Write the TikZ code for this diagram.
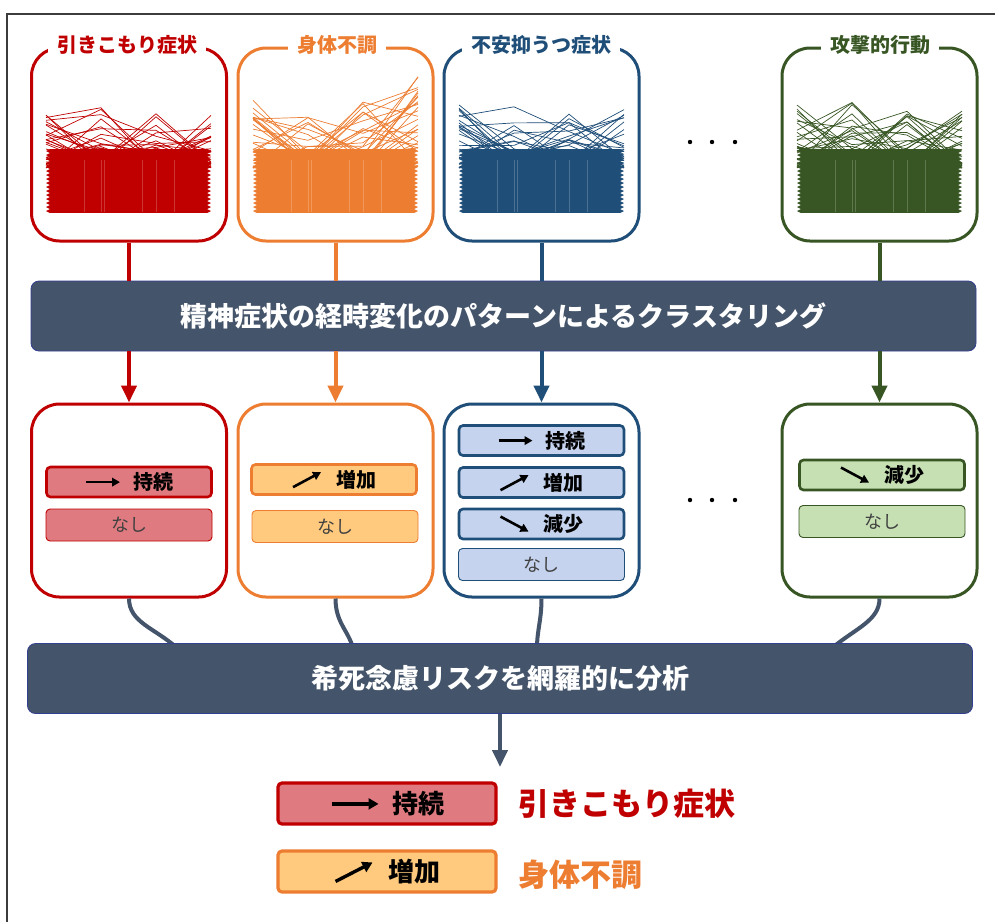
\documentclass[tikz,border=0pt]{standalone}
\usepackage{fontspec}
\setmainfont{Noto Sans CJK JP}
\usetikzlibrary{arrows.meta,calc}
\definecolor{cred}{HTML}{C00000}
\definecolor{cpink}{HTML}{DF7B80}
\definecolor{corange}{HTML}{ED7D31}
\definecolor{cpeach}{HTML}{FFCA7E}
\definecolor{cblue}{HTML}{1F4E79}
\definecolor{clblue}{HTML}{C5D3EE}
\definecolor{cgreen}{HTML}{375623}
\definecolor{clgreen}{HTML}{C6E0B4}
\definecolor{cslate}{HTML}{44546A}
\definecolor{cframe}{HTML}{3C3C3C}
\definecolor{cnashi}{HTML}{404040}
\tikzset{
 glyph/.style={line width=2.6pt, black, -{Triangle[length=8pt,width=8.5pt]}},
 bigglyph/.style={line width=3.4pt, black, -{Triangle[length=10pt,width=11pt]}},
 panel/.style={draw=#1, line width=3pt, rounded corners=28pt, minimum width=195pt, minimum height=193pt, fill=white},
 ptitle/.style={fill=white, text=#1, inner xsep=9pt, inner ysep=2pt, font=\fontsize{20}{24}\selectfont\bfseries},
 bandbox/.style={fill=cslate, draw=cslate!75!blue, line width=0.8pt, rounded corners=8pt, minimum width=945pt, minimum height=70pt, text=white, font=\fontsize{27}{30}\selectfont\bfseries},
 rowbox/.style 2 args={fill=#2, draw=#1, line width=2.6pt, rounded corners=4pt, minimum width=165pt, minimum height=30pt, inner sep=0pt, font=\fontsize{20}{24}\selectfont\bfseries},
 nashi/.style 2 args={fill=#2, draw=#1, line width=0.9pt, rounded corners=4pt, minimum width=166pt, minimum height=32pt, inner sep=0pt, text=cnashi, font=\fontsize{18}{22}\selectfont},
 flow/.style={line width=4pt, draw=#1},
 flowarr/.style={line width=4pt, draw=#1, -{Triangle[length=17pt,width=15pt]}},
 plotline/.style={line width=0.7pt, draw=#1},
}
\newcommand\gR{\tikz[baseline=0pt]\draw[glyph] (0pt,7.5pt) -- (34pt,7.5pt);}
\newcommand\gU{\tikz[baseline=0pt]\draw[glyph] (0pt,0pt) -- (28pt,15pt);}
\newcommand\gD{\tikz[baseline=0pt]\draw[glyph] (0pt,15pt) -- (28pt,0pt);}
\newcommand\gRb{\tikz[baseline=0pt]\draw[bigglyph] (0pt,9.5pt) -- (47pt,9.5pt);}
\newcommand\gUb{\tikz[baseline=0pt]\draw[bigglyph] (0pt,0pt) -- (37pt,19pt);}
% #1 x0, #2 colour, #3 seed, #4 rising trend (0/1)
\newcommand\plotset[4]{%
  \fill[#2] ({#1+4},149) rectangle ({#1+161},213);
  \foreach \t in {0,...,15}{
    \fill[#2] ({#1+4},{149+4*\t}) -- ({#1},{151+4*\t}) -- ({#1+4},{153+4*\t}) -- cycle;
    \fill[#2] ({#1+161},{149+4*\t}) -- ({#1+165},{151+4*\t}) -- ({#1+161},{153+4*\t}) -- cycle;
  }
  \pgfmathsetseed{#3}
  \foreach \k in {1,...,32}{
    \pgfmathsetmacro\ya{168-(66+4*#4)*rnd^1.7}
    \pgfmathsetmacro\yb{168-(66-14*#4)*rnd^2.2}
    \pgfmathsetmacro\yc{168-(58+16*#4)*rnd^2}
    \pgfmathsetmacro\yd{168-(62+30*#4)*rnd^(1.8-0.7*#4)}
    \draw[plotline=#2] ({#1},\ya) -- ({#1+55},\yb) -- ({#1+110},\yc) -- ({#1+165},\yd);
  }
  \foreach \s in {38,55,58,96,110,128}{
    \draw[white, opacity=0.2, line width=0.6pt] ({#1+\s},160) -- ({#1+\s},212);
  }
}
\begin{document}
\begin{tikzpicture}[x=1pt,y=-1pt]
\useasboundingbox (0,0) rectangle (995,922);
\fill[white] (0,0) rectangle (995,922);
\draw[cframe, line width=2pt] (6.5,922) -- (6.5,13.5) -- (995,13.5);

% top panels
\node[panel=cred]    (t1) at (129,144.5) {};
\node[panel=corange] (t2) at (335.5,144.5) {};
\node[panel=cblue]   (t3) at (541.5,144.5) {};
\node[panel=cgreen]  (t4) at (879.5,144.5) {};
\plotset{46}{cred}{11}{0}
\plotset{253}{corange}{23}{1}
\plotset{459}{cblue}{37}{0}
\plotset{797}{cgreen}{51}{0}
\node[ptitle=cred]    (h1) at (127,45) {引きこもり症状};
\node[ptitle=corange] (h2) at (337,45) {身体不調};
\node[ptitle=cblue]   (h3) at (541,45) {不安抑うつ症状};
\node[ptitle=cgreen]  (h4) at (880,45) {攻撃的行動};
\foreach \x in {690,712,735} \fill[black] (\x,142) circle (2.2);

% middle panels
\node[panel=cred]    (m1) at (129,500.5) {};
\node[panel=corange] (m2) at (335.5,500.5) {};
\node[panel=cblue]   (m3) at (541.5,500.5) {};
\node[panel=cgreen]  (m4) at (879.5,500.5) {};
\foreach \x in {690,712,735} \fill[black] (\x,500) circle (2.2);

\node[rowbox={cred}{cpink}] (r1a) at (129,482) {\gR\hspace{12pt}持続};
\node[nashi={cred}{cpink}]  (r1b) at (129,525) {なし};
\node[rowbox={corange}{cpeach}] (r2a) at (334,479.5) {\gU\hspace{14pt}増加};
\node[nashi={corange}{cpeach}]  (r2b) at (335,526.5) {なし};
\node[rowbox={cblue}{clblue}] (r3a) at (541.5,440.5) {\gR\hspace{12pt}持続};
\node[rowbox={cblue}{clblue}] (r3b) at (541.5,482.5) {\gU\hspace{14pt}増加};
\node[rowbox={cblue}{clblue}] (r3c) at (541.5,524) {\gD\hspace{14pt}減少};
\node[nashi={cblue}{clblue}]  (r3d) at (541.5,564.5) {なし};
\node[rowbox={cgreen}{clgreen}] (r4a) at (882,475) {\gD\hspace{14pt}減少};
\node[nashi={cgreen}{clgreen}]  (r4b) at (882,521.5) {なし};

% bar 1
\node[bandbox] (b1) at (503.5,316) {精神症状の経時変化のパターンによるクラスタリング};
\draw[flow=cred]    (t1.south) -- (t1.south |- b1.north);
\draw[flow=corange] (t2.south) -- (t2.south |- b1.north);
\draw[flow=cblue]   (t3.south) -- (t3.south |- b1.north);
\draw[flow=cgreen]  (t4.south) -- (t4.south |- b1.north);
\draw[flowarr=cred]    (t1.south |- b1.south) -- (m1.north);
\draw[flowarr=corange] (t2.south |- b1.south) -- (m2.north);
\draw[flowarr=cblue]   (t3.south |- b1.south) -- (m3.north);
\draw[flowarr=cgreen]  (t4.south |- b1.south) -- (m4.north);

% curves to bar 2
\coordinate (e1) at (177,648);
\coordinate (e2) at (353,648);
\coordinate (e3) at (537,648);
\coordinate (e4) at (832,648);
\draw[flow=cslate] (m1.south) .. controls ($(m1.south)+(0,24)$) and ($(e1)+(-22,-20)$) .. (e1);
\draw[flow=cslate] (m2.south) .. controls ($(m2.south)+(0,24)$) and ($(e2)+(-5,-18)$) .. (e2);
\draw[flow=cslate] (m3.south) .. controls ($(m3.south)+(0,22)$) and ($(e3)+(0,-18)$) .. (e3);
\draw[flow=cslate] (m4.south) .. controls ($(m4.south)+(0,22)$) and ($(e4)+(24,-20)$) .. (e4);
\node[bandbox] (b2) at (500,678.5) {希死念慮リスクを網羅的に分析};

% result
\coordinate (lg) at (500,767);
\draw[flowarr=cslate] (b2.south) -- (lg);
\node[rowbox={cred}{cpink}, minimum width=218pt, minimum height=41pt, line width=3.2pt, font=\fontsize{26}{30}\selectfont\bfseries] (l1) at (387,803.5) {\gRb\hspace{12pt}持続};
\node[anchor=west, inner sep=0pt, text=cred, font=\fontsize{31}{34}\selectfont\bfseries] (l1t) at (518,803.5) {引きこもり症状};
\node[rowbox={corange}{cpeach}, minimum width=218pt, minimum height=41pt, line width=3.2pt, font=\fontsize{26}{30}\selectfont\bfseries] (l2) at (387,871.5) {\gUb\hspace{14pt}増加};
\node[anchor=west, inner sep=0pt, text=corange, font=\fontsize{31}{34}\selectfont\bfseries] (l2t) at (518,875) {身体不調};
\end{tikzpicture}
\end{document}
